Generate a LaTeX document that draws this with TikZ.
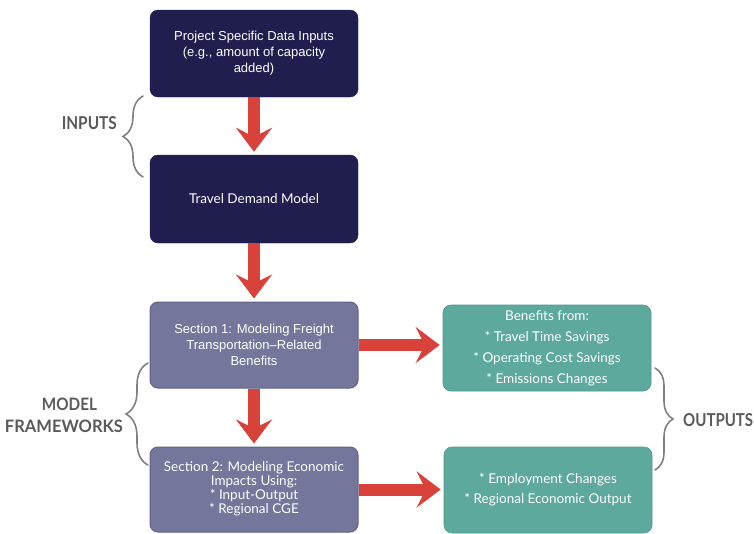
\documentclass[tikz,border=0pt]{standalone}
\usepackage{graphicx}
\usepackage{fontspec}
\setmainfont{Liberation Sans}
\newfontfamily\lato{Lato}
\usetikzlibrary{arrows.meta,decorations.pathreplacing}
\definecolor{navy}{HTML}{1F1E4E}
\definecolor{slate}{HTML}{74779B}
\definecolor{slateedge}{HTML}{60628A}
\definecolor{teal}{HTML}{5EA99D}
\definecolor{tealedge}{HTML}{4F978B}
\definecolor{redar}{HTML}{D8423B}
\definecolor{lblgray}{HTML}{5A5A5A}
\definecolor{bracegray}{HTML}{808080}
\begin{document}
\begin{tikzpicture}[x=1pt,y=-1pt,
  box/.style={rounded corners=8pt, minimum width=208pt, inner sep=0pt, text=white, align=center},
  navybox/.style={box, fill=navy, draw=navy},
  slatebox/.style={box, fill=slate, draw=slateedge, line width=1pt},
  tealbox/.style={box, fill=teal, draw=tealedge, line width=0.6pt},
  redarrow/.style={draw=redar, line width=12pt, -{Stealth[length=24pt,width=36pt,inset=9pt]}, shorten >=3pt},
  bracestyle/.style={draw=bracegray, line width=1.6pt, decorate, line cap=round},
  lbl/.style={text=lblgray, font=\lato\bfseries\fontsize{16}{22.5}\selectfont, inner sep=0pt, align=center}
]
\useasboundingbox (0,0) rectangle (754,533);
\fill[white] (0,0) rectangle (754,533);

\node[navybox, minimum height=87pt, font=\fontsize{13}{16}\selectfont] (b1) at (254,53.5)
  {Project Specific Data Inputs\\(e.g., amount of capacity\\added)};
\node[navybox, minimum height=88pt, font=\lato\fontsize{13.5}{16}\selectfont] (b2) at (254,199)
  {Travel Demand Model};
\node[slatebox, minimum height=86pt, font=\fontsize{13}{16}\selectfont] (b3) at (254,345)
  {Section 1: Modeling Freight\\Transportation--Related\\Benefits};
\node[slatebox, minimum height=85pt, font=\lato\fontsize{13.5}{13.5}\selectfont] (b4) at (254,489.5)
  {\raisebox{7pt}{\begin{tabular}{@{}c@{}}Section 2: Modeling Economic\\Impacts Using:\\{*} Input-Output\\{*} Regional CGE\end{tabular}}};
\node[tealbox, minimum height=86pt, font=\lato\fontsize{13.5}{21}\selectfont] (b5) at (547,348)
  {Benefits from:\\{*} Travel Time Savings\\{*} Operating Cost Savings\\{*} Emissions Changes};
\node[tealbox, minimum height=86pt, font=\lato\fontsize{13.5}{20}\selectfont] (b6) at (548,490)
  {{*} Employment Changes\\{*} Regional Economic Output};

\draw[redarrow] (b1.south) -- (b2.north);
\draw[redarrow] (b2.south) -- (b3.north);
\draw[redarrow] (b3.south) -- (b4.north);
\draw[redarrow] (b3.east) -- (b3.east -| b5.west);
\draw[redarrow] (b4.east) -- (b4.east -| b6.west);

\draw[bracestyle, decoration={brace, amplitude=20pt}] (143,177) -- (143,96);
\draw[bracestyle, decoration={brace, amplitude=22pt}] (148,465) -- (148,363);
\draw[bracestyle, decoration={brace, amplitude=18pt}] (655,368) -- (655,470);

\node[lbl, anchor=east] (inputs) at (117,123) {\resizebox{55pt}{13pt}{INPUTS}};
\node[lbl] (frameworks) at (64,415.5) {\hspace*{11pt}\resizebox{55pt}{12.5pt}{MODEL}\\\resizebox{118pt}{12.5pt}{FRAMEWORKS}};
\node[lbl, anchor=west] (outputs) at (683,420) {\resizebox{70pt}{13pt}{OUTPUTS}};
\end{tikzpicture}
\end{document}
